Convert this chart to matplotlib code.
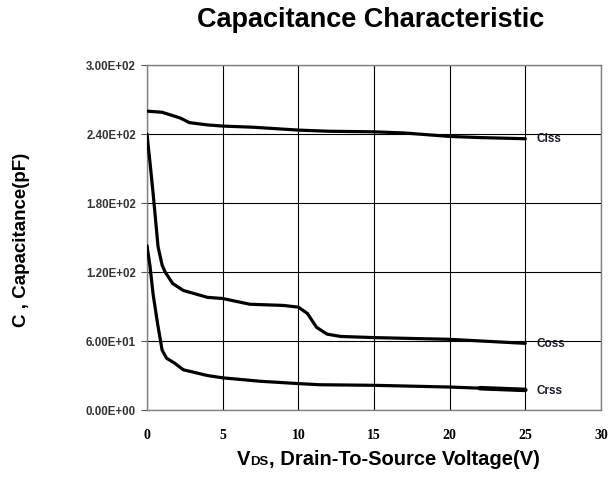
import numpy as np
import matplotlib.pyplot as plt
from matplotlib.ticker import FuncFormatter

plt.rcParams['font.family'] = ['Liberation Sans', 'DejaVu Sans']

# values
vds_ciss = [0, 1, 2.2, 2.8, 4, 5, 7, 10, 12, 15, 17, 20, 22, 25]
ciss = [260, 259, 254, 250, 248, 247, 246, 243.5, 242.5, 242, 241, 238, 237, 236]

vds_coss = [0, 0.2, 0.4, 0.73, 1.0, 1.2, 1.7, 2.4, 4, 5, 6.8, 9, 10, 10.6, 11.2, 11.9, 12.8, 15, 20, 25]
coss = [240, 215, 189, 142, 126, 120, 110, 104, 98, 97, 92, 91, 89.5, 84, 72, 66, 64, 63, 61.5, 58]

vds_crss = [0, 0.2, 0.4, 0.7, 1.0, 1.3, 1.8, 2.4, 4, 5, 7.5, 10, 11.4, 15, 20, 22, 25]
crss = [143, 125, 101, 75, 52, 45, 41, 35, 30, 28, 25, 23, 22, 21.5, 20, 19, 17.5]

curve_names = ['Ciss', 'Coss', 'Crss']
x_ticks = [0, 5, 10, 15, 20, 25, 30]
y_ticks = [0, 60, 120, 180, 240, 300]

fig = plt.figure(figsize=(6.11, 4.79), dpi=100)
ax = fig.add_axes([0.2406, 0.144, 0.743, 0.720])

for x, y in [(vds_ciss, ciss), (vds_coss, coss), (vds_crss, crss)]:
    ax.plot(x, y, color='black', lw=2.3, solid_capstyle='round', zorder=3)

# thicker tail on Crss
tail = np.array(vds_crss) >= 22
ax.plot(np.array(vds_crss)[tail], np.array(crss)[tail], color='black', lw=3.3,
        solid_capstyle='round', zorder=3)

# curve labels
for name, y in zip(curve_names, [ciss[-1], coss[-1], crss[-1]]):
    ax.annotate(name, (25, y), xytext=(8, -0.5), textcoords='offset points',
                fontsize=8.5, fontweight='bold', color='#1a1a2e', va='center')

ax.set_xlim(0, 30)
ax.set_ylim(0, 300)
ax.set_xticks(x_ticks)
ax.set_yticks(y_ticks)
ax.yaxis.set_major_formatter(FuncFormatter(lambda v, p: '%.2E' % v))
ax.grid(True, color='black', lw=0.8)
ax.set_axisbelow(True)
for s in ax.spines.values():
    s.set_color('#808080')
    s.set_linewidth(1.0)

ax.tick_params(axis='y', length=4, width=0.8, color='#555555', pad=4, labelsize=8.3)
ax.tick_params(axis='x', length=0, pad=14, labelsize=10)
for lab in ax.get_yticklabels():
    lab.set_fontweight('bold')
    lab.set_color('#333333')
for lab in ax.get_xticklabels():
    lab.set_family('Liberation Serif')
    lab.set_fontweight('bold')

fig.text(0.607, 0.958, 'Capacitance Characteristic', ha='center', va='center',
         fontsize=19.5, fontweight='bold')

# x label: "V" + small "DS" on the same baseline + the rest
t1 = fig.text(0.387, 0.020, 'V', ha='left', va='bottom', fontsize=14.5, fontweight='bold')
t2 = ax.annotate('DS', xy=(1, 0), xycoords=t1, xytext=(0.5, 1.2), textcoords='offset points',
                 fontsize=9.5, fontweight='bold', ha='left', va='bottom', annotation_clip=False)
ax.annotate(', Drain-To-Source Voltage(V)', xy=(1, 0), xycoords=t2, xytext=(0, -1.2),
            textcoords='offset points', fontsize=14.5, fontweight='bold',
            ha='left', va='bottom', annotation_clip=False)

fig.text(0.036, 0.499, 'C , Capacitance(pF)', rotation=90, ha='center', va='center',
         fontsize=13.5, fontweight='bold')

fig.savefig('out.png', dpi=100)
